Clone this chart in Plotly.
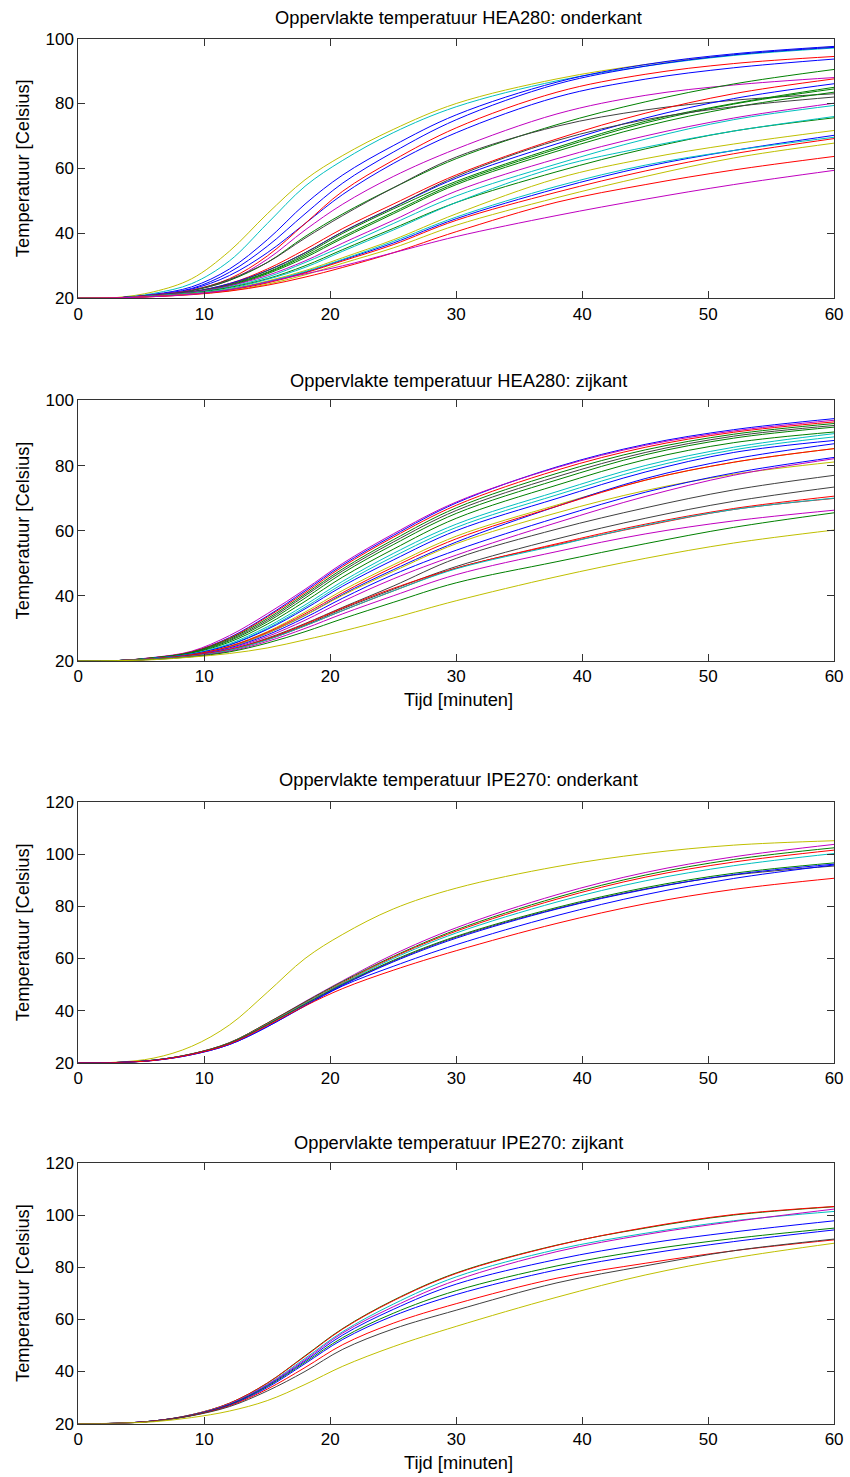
import plotly.graph_objects as go

# ---------------- data ----------------
TIME = [0, 3, 6, 9, 12, 15, 18, 21, 25, 30, 38, 45, 52, 60]
X_TICKS = [0, 10, 20, 30, 40, 50, 60]
Y_TICKS_HEA = [20, 40, 60, 80, 100]
Y_TICKS_IPE = [20, 40, 60, 80, 100, 120]

TITLES = [
    "Oppervlakte temperatuur HEA280: onderkant",
    "Oppervlakte temperatuur HEA280: zijkant",
    "Oppervlakte temperatuur IPE270: onderkant",
    "Oppervlakte temperatuur IPE270: zijkant",
]
Y_LABEL = "Temperatuur [Celsius]"
X_LABEL = "Tijd [minuten]"

# Panel 1: HEA280 onderkant
P1_SERIES = [
    [20, 20.2, 22.0, 26.0, 34.5, 46, 56.5, 64, 72, 80, 87.6, 92, 95, 97.5],
    [20, 20.1, 21.5, 24.5, 31.5, 43, 54.5, 62.5, 71, 79, 87, 91.5, 94.8, 97.1],
    [20, 20.1, 21.2, 23.5, 29, 38, 49, 58, 67, 76.5, 86.6, 92, 95.3, 97.6],
    [20, 20.1, 21.1, 23, 28, 36, 46, 55.5, 65, 75, 86, 91.5, 95, 97.3],
    [20, 20.1, 21, 22.8, 27, 34, 43, 52, 61.5, 71, 82, 87.5, 91, 93.7],
    [20, 20.1, 21, 22.5, 26, 33, 43, 53, 62.5, 72.5, 83.5, 89, 92.3, 94.5],
    [20, 20.1, 21, 22.5, 25.5, 32, 41, 49, 57.5, 66, 76.8, 82.5, 85.7, 88],
    [20, 20.1, 20.9, 22.3, 25.5, 31, 39, 46, 54, 63, 73.5, 80.5, 86, 90.5],
    [20, 20.1, 20.9, 22.4, 25.8, 31, 38.5, 45.5, 54, 63.5, 73, 78, 81, 83],
    [20, 20.1, 20.9, 22, 24.5, 29, 35, 41.5, 49, 58, 69.1, 77, 83, 87.6],
    [20, 20.1, 20.9, 22, 24.5, 28.5, 34, 40.5, 48, 57, 67.6, 75.5, 81.5, 86.1],
    [20, 20.1, 20.8, 21.9, 24.2, 28, 33.5, 40, 47.5, 56, 66.5, 74.5, 80, 85],
    [20, 20.1, 20.8, 21.9, 24, 27.8, 33, 39, 46.5, 55.5, 66, 74, 79.8, 84.5],
    [20, 20.1, 20.8, 21.8, 23.8, 27.5, 32.5, 38.5, 46, 55, 65.3, 73, 78.8, 83.5],
    [20, 20.1, 20.8, 21.9, 24.2, 28.5, 34, 40.5, 48, 57.5, 68.6, 75, 79, 82],
    [20, 20.1, 20.8, 21.8, 23.8, 27, 31.5, 37, 44, 53, 63, 70, 75.5, 80.1],
    [20, 20.1, 20.7, 21.6, 23.5, 26.5, 31, 36, 43, 51.5, 61.4, 69, 75, 79.4],
    [20, 20.1, 20.7, 21.6, 23.3, 26, 30, 35, 41.5, 49.5, 59, 66, 71.5, 75.6],
    [20, 20.1, 20.7, 21.5, 23, 25.8, 29.5, 34.5, 41, 49.5, 60.4, 66.5, 71.5, 76],
    [20, 20.1, 20.6, 21.4, 22.8, 25.3, 28.5, 32.5, 38, 46, 56.9, 63, 67.5, 71.7],
    [20, 20.1, 20.6, 21.3, 22.6, 25, 28, 31.8, 37, 44.5, 53.8, 60.5, 65.5, 70.2],
    [20, 20.1, 20.6, 21.4, 22.7, 25, 28.2, 32, 37.5, 45, 54.5, 61, 65.5, 69.6],
    [20, 20.1, 20.6, 21.3, 22.5, 24.7, 27.8, 31.5, 36.5, 44, 52.7, 59.2, 64.5, 69.2],
    [20, 20.1, 20.5, 21.2, 22.3, 24.3, 27.2, 30.8, 35.5, 42.5, 51, 57.5, 63.2, 67.8],
    [20, 20.1, 20.5, 21.1, 22.2, 24, 26.5, 29.5, 34, 40.5, 49.6, 55, 59.5, 63.7],
    [20, 20.1, 20.5, 21.2, 22.6, 25, 27.5, 30, 34, 39, 45.5, 50.5, 55, 59.4],
]
P1_COLORS = ["y", "c", "b", "b", "b", "r", "m", "g", "k", "r", "b", "g", "g", "g",
             "k", "m", "c", "g", "c", "y", "b", "c", "r", "y", "r", "m"]

# Panel 2: HEA280 zijkant
P2_SERIES = [
    [20, 20.1, 21, 22.8, 27.2, 33.8, 41.5, 49.5, 58.5, 68.5, 79.6, 86.5, 91, 94.4],
    [20, 20.1, 21.1, 23, 27.8, 34.5, 42, 50, 59, 68.8, 79.4, 86.2, 90.6, 93.9],
    [20, 20.1, 21, 22.8, 27, 33.5, 41, 49, 58, 67.8, 78.6, 85.6, 90.2, 93.4],
    [20, 20.1, 21, 22.7, 26.8, 33, 40.5, 48.3, 57.2, 67, 77.6, 84.8, 89.6, 92.9],
    [20, 20.1, 20.9, 22.6, 26.5, 32.5, 40, 47.7, 56.5, 66.2, 76.6, 84, 89, 92.3],
    [20, 20.1, 20.9, 22.5, 26.2, 32, 39.3, 47, 55.7, 65.3, 75.6, 83.3, 88.4, 91.8],
    [20, 20.1, 20.9, 22.4, 25.8, 31.3, 38.3, 45.8, 54.3, 63.8, 74, 81.8, 87, 90.3],
    [20, 20.1, 20.8, 22.2, 25.3, 30.5, 37.2, 44.5, 53, 62, 72, 80, 85.6, 89.8],
    [20, 20.1, 20.8, 22.1, 25, 30, 36.5, 43.7, 52, 61, 71, 79, 84.8, 88.8],
    [20, 20.1, 20.8, 22.1, 24.9, 29.7, 36, 43, 51, 60, 69.9, 78, 84, 87.7],
    [20, 20.1, 20.7, 21.9, 24.5, 29, 35, 41.7, 49.5, 58.3, 67.9, 75.5, 81, 85.2],
    [20, 20.1, 20.7, 21.9, 24.3, 28.5, 34, 40.5, 48, 56.5, 67.5, 76, 82, 86.7],
    [20, 20.1, 20.7, 21.8, 24.2, 28.5, 34, 40.2, 47.5, 56, 65.5, 72.3, 77.3, 81.1],
    [20, 20.1, 20.7, 21.8, 24, 28, 33.3, 39.3, 46.5, 54, 64, 71.8, 77.7, 82.5],
    [20, 20.1, 20.6, 21.7, 23.8, 27.5, 32.5, 38.3, 45.2, 52.5, 62.5, 70.5, 77, 82.1],
    [20, 20.1, 20.7, 21.9, 24.5, 28.8, 34.5, 41, 48.8, 57.5, 67.5, 75.5, 81, 85.2],
    [20, 20.1, 20.6, 21.6, 23.5, 27, 31.5, 36.5, 43, 51.5, 60.5, 67, 72.5, 77],
    [20, 20.1, 20.6, 21.6, 23.4, 26.7, 31, 36, 42, 49, 57.5, 63.8, 69, 73.4],
    [20, 20.1, 20.6, 21.6, 23.5, 26.8, 31.3, 36.3, 42.3, 48.5, 56, 62, 66.8, 70.6],
    [20, 20.1, 20.6, 21.5, 23.3, 26.5, 30.8, 35.5, 41.5, 48.5, 55.7, 61.5, 66.5, 69.9],
    [20, 20.1, 20.6, 21.5, 23.3, 26.5, 30.8, 35.5, 41.5, 48.3, 55.5, 61.7, 66.5, 70],
    [20, 20.1, 20.5, 21.4, 23, 26, 30, 34.5, 40, 46.5, 53.6, 59, 63, 66.3],
    [20, 20.1, 20.5, 21.3, 22.8, 25.5, 29, 33, 38, 44, 50.5, 56, 61, 65.5],
    [20, 20.1, 20.4, 21.2, 22.3, 24, 26.5, 29.2, 33.2, 38.5, 45.9, 51.5, 56.2, 60.2],
]
P2_COLORS = ["b", "m", "r", "g", "k", "g", "g", "c", "c", "b", "y", "b", "y", "b",
             "m", "r", "k", "k", "r", "r", "c", "m", "g", "y"]

# Panel 3: IPE270 onderkant
P3_SERIES = [
    [20, 20.2, 21.8, 26.3, 34.5, 47, 60, 69.3, 79, 87, 95.3, 100.3, 103.5, 105.2],
    [20, 20.1, 21, 23.4, 27.7, 35.2, 43.5, 51.5, 61.5, 71.8, 84.5, 93, 99, 103.8],
    [20, 20.1, 21, 23.4, 27.7, 35.2, 43.3, 51.2, 60.8, 71, 83.5, 92, 98, 102.5],
    [20, 20.1, 21, 23.4, 27.6, 35, 43, 50.8, 60.5, 70.5, 82.8, 91.2, 97, 101.6],
    [20, 20.1, 21, 23.3, 27.5, 34.8, 42.8, 50.5, 60, 69.8, 81.7, 89.8, 95.6, 100.3],
    [20, 20.1, 21, 23.3, 27.5, 34.6, 42.5, 50.2, 59.3, 68.5, 79.6, 87.2, 92.7, 96.7],
    [20, 20.1, 21, 23.3, 27.4, 34.5, 42.4, 50, 59, 68.2, 79.2, 86.7, 92, 95.5],
    [20, 20.1, 20.9, 23.1, 27, 33.8, 42, 49.8, 58.7, 67.8, 79, 86.5, 92.2, 96.2],
    [20, 20.1, 20.9, 23.1, 27, 33.8, 41.8, 49.5, 57, 65.3, 76.5, 84.5, 90.7, 95.9],
    [20, 20.1, 20.9, 23.2, 27.2, 34.2, 41.8, 48.5, 55.5, 63, 73.5, 81, 86.5, 90.8],
]
P3_COLORS = ["y", "m", "g", "r", "c", "g", "k", "b", "b", "r"]

# Panel 4: IPE270 zijkant
P4_SERIES = [
    [20, 20.1, 21, 23.4, 27.8, 35.5, 46, 56.5, 67.3, 77.8, 88.5, 95, 100, 103.2],
    [20, 20.1, 21, 23.4, 27.8, 35.5, 45.8, 56.3, 67.1, 77.6, 88.4, 95.2, 100.2, 103.3],
    [20, 20.1, 21, 23.3, 27.5, 35, 45, 55.3, 65.8, 76.3, 86.8, 93, 97.8, 101.4],
    [20, 20.1, 21, 23.3, 27.5, 34.8, 44.5, 54.8, 64.8, 75, 86, 92.5, 97.5, 102.3],
    [20, 20.1, 21, 23.2, 27.3, 34.5, 44, 54, 63.8, 73.5, 83, 89, 93.5, 97.8],
    [20, 20.1, 21, 23.2, 27.2, 34.2, 43.5, 53, 62.3, 71, 80.5, 86.5, 91, 95],
    [20, 20.1, 21, 23.1, 27, 33.8, 43, 52.3, 61.3, 69.5, 79, 85, 89.8, 94.3],
    [20, 20.1, 21, 23.1, 26.8, 33.2, 41.5, 50.3, 58.5, 66, 75.8, 81.5, 86.3, 90.5],
    [20, 20.1, 20.9, 23, 26.5, 32.5, 40, 48.5, 56.3, 63.5, 74, 80.5, 86.3, 90.8],
    [20, 20.1, 20.7, 22.3, 24.8, 28.8, 35, 42, 49.5, 57.3, 68.5, 77, 83.5, 89.2],
]
P4_COLORS = ["g", "r", "c", "m", "b", "g", "b", "r", "k", "y"]

# ---------------- styling ----------------
COLOR_MAP = {
    "b": "#0000FF", "g": "#008000", "r": "#FF0000", "c": "#00BFBF",
    "m": "#BF00BF", "y": "#BFBF00", "k": "#404040",
}
W, H = 850, 1477
X_LEFT, X_RIGHT = 74.5, 843
PANEL_PIX = [(30, 293), (396.5, 660.5), (803.5, 1067.5), (1169, 1433)]
TITLE_X = 461
TITLE_Y = [9, 376, 781, 1148]
XLABEL_Y = [700, 1472]
YLABEL_X = 18
FONT = "Liberation Sans, Arial, sans-serif"

fig = go.Figure()
panels = [(P1_SERIES, P1_COLORS, Y_TICKS_HEA),
          (P2_SERIES, P2_COLORS, Y_TICKS_HEA),
          (P3_SERIES, P3_COLORS, Y_TICKS_IPE),
          (P4_SERIES, P4_COLORS, Y_TICKS_IPE)]

layout_axes = {}
annotations = []
for i, (series, colors, yticks) in enumerate(panels):
    n = i + 1
    xa = "x" if n == 1 else f"x{n}"
    ya = "y" if n == 1 else f"y{n}"
    for vals, col in zip(series, colors):
        fig.add_trace(go.Scatter(
            x=TIME, y=vals, mode="lines", xaxis=xa, yaxis=ya,
            line=dict(color=COLOR_MAP[col], width=1, shape="spline", smoothing=1.0),
            showlegend=False, hoverinfo="skip"))
    top, bot = PANEL_PIX[i]
    common = dict(showgrid=False, zeroline=False, showline=True, mirror="ticks",
                  linecolor="#333333", linewidth=1, ticks="inside", ticklen=7,
                  tickcolor="#333333", ticklabeloverflow="allow",
                  tickfont=dict(family=FONT, size=17, color="#000"))
    layout_axes[("xaxis" if n == 1 else f"xaxis{n}")] = dict(
        common, domain=[X_LEFT / W, X_RIGHT / W], range=[0, 60],
        tickvals=X_TICKS, anchor=ya)
    layout_axes[("yaxis" if n == 1 else f"yaxis{n}")] = dict(
        common, domain=[1 - bot / H, 1 - top / H], range=[yticks[0], yticks[-1]],
        tickvals=yticks, anchor=xa)
    annotations.append(dict(
        text=TITLES[i], x=TITLE_X / W, y=1 - TITLE_Y[i] / H,
        xref="paper", yref="paper", showarrow=False, xanchor="center", yanchor="middle",
        font=dict(family=FONT, size=18.3, color="#000")))
    annotations.append(dict(
        text=Y_LABEL, x=YLABEL_X / W, y=1 - (top + bot) / 2 / H, textangle=-90,
        xref="paper", yref="paper", showarrow=False, xanchor="center", yanchor="middle",
        font=dict(family=FONT, size=18.3, color="#000")))

for py in XLABEL_Y:
    annotations.append(dict(
        text=X_LABEL, x=TITLE_X / W, y=1 - py / H,
        xref="paper", yref="paper", showarrow=False, xanchor="center", yanchor="middle",
        font=dict(family=FONT, size=18.3, color="#000")))

fig.update_layout(
    width=W, height=H, margin=dict(l=0, r=0, t=0, b=0),
    paper_bgcolor="white", plot_bgcolor="white",
    annotations=annotations, **layout_axes)

fig.write_html(
    "out.html",
    config={"displayModeBar": False},
    post_script="document.body.style.margin='0';document.body.style.padding='0';"
                "document.documentElement.style.overflow='hidden';",
)
